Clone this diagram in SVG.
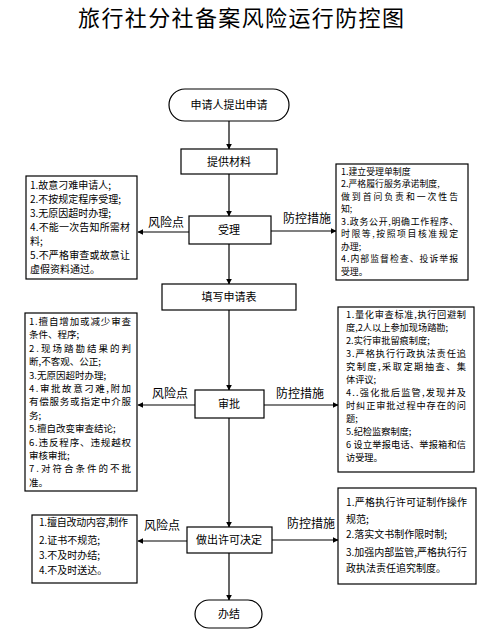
<svg xmlns="http://www.w3.org/2000/svg" width="493" height="638" viewBox="0 0 493 638">
<style>
text{font-family:"Noto Sans CJK SC","Noto Sans",sans-serif;fill:#000}
.title{font-size:22px;text-anchor:middle}
.lbl{font-size:11px;text-anchor:middle}
.side{font-size:12px}
.t{font-size:10px}
.m1{font-size:8.9px}
.m2{font-size:9.2px}
.r2{font-size:9.5px}
.box{fill:#fff;stroke:#000;stroke-width:1.2}
.ln{stroke:#000;stroke-width:1.2;fill:none;marker-end:url(#ah)}
</style>
<defs>
<marker id="ah" viewBox="0 0 10 10" refX="9" refY="5" markerWidth="6" markerHeight="6" orient="auto" markerUnits="userSpaceOnUse">
<path d="M0,0 L10,5 L0,10 z" fill="#000"/>
</marker>
</defs>
<rect width="493" height="638" fill="#fff"/>
<text class="title" x="241" y="26" textLength="326" lengthAdjust="spacing">旅行社分社备案风险运行防控图</text>

<g id="connectors">
<line class="ln" x1="229" y1="121" x2="229" y2="149"/>
<line class="ln" x1="229" y1="174" x2="229" y2="216"/>
<line class="ln" x1="229" y1="244" x2="229" y2="284"/>
<line class="ln" x1="229" y1="310" x2="229" y2="390"/>
<line class="ln" x1="229" y1="418" x2="229" y2="527"/>
<line class="ln" x1="229" y1="553" x2="229" y2="600"/>
<line class="ln" x1="189" y1="232" x2="138" y2="232"/>
<line class="ln" x1="271" y1="231" x2="336" y2="231"/>
<line class="ln" x1="195" y1="405" x2="138" y2="405"/>
<line class="ln" x1="264" y1="405" x2="338" y2="405"/>
<line class="ln" x1="187" y1="541" x2="138" y2="541"/>
<line class="ln" x1="272" y1="540" x2="338" y2="540"/>
<text class="side" x="148" y="227">风险点</text>
<text class="side" x="283" y="223">防控措施</text>
<text class="side" x="152" y="398">风险点</text>
<text class="side" x="276" y="398">防控措施</text>
<text class="side" x="144" y="530">风险点</text>
<text class="side" x="287" y="528">防控措施</text>
</g>

<g id="start">
<rect class="box" x="169" y="89" width="120" height="32" rx="16"/>
<text class="lbl" x="229" y="109">申请人提出申请</text>
</g>
<g id="materials">
<rect class="box" x="181" y="149" width="96" height="25"/>
<text class="lbl" x="229" y="166">提供材料</text>
</g>
<g id="accept">
<rect class="box" x="189" y="216" width="82" height="28"/>
<text class="lbl" x="229" y="234">受理</text>
</g>
<g id="form">
<rect class="box" x="162" y="284" width="134" height="26"/>
<text class="lbl" x="229" y="301">填写申请表</text>
</g>
<g id="approve">
<rect class="box" x="195" y="390" width="69" height="28"/>
<text class="lbl" x="229" y="408">审批</text>
</g>
<g id="decide">
<rect class="box" x="187" y="527" width="85" height="26"/>
<text class="lbl" x="229" y="544">做出许可决定</text>
</g>
<g id="end">
<rect class="box" x="195" y="600" width="67" height="28" rx="14"/>
<text class="lbl" x="229" y="618">办结</text>
</g>

<g id="risk1">
<rect class="box" x="26" y="176" width="111" height="103"/>
<text class="t"><tspan x="30" y="189">1.故意刁难申请人;</tspan><tspan x="30" y="203">2.不按规定程序受理;</tspan><tspan x="30" y="217">3.无原因超时办理;</tspan><tspan x="30" y="231" textLength="100" lengthAdjust="spacing">4.不能一次告知所需材</tspan><tspan x="30" y="245">料;</tspan><tspan x="30" y="259" textLength="100" lengthAdjust="spacing">5.不严格审查或故意让</tspan><tspan x="30" y="273">虚假资料通过。</tspan></text>
</g>
<g id="measure1">
<rect class="box" x="336" y="164" width="132" height="116"/>
<text class="m1"><tspan x="341" y="174.5">1.建立受理单制度</tspan><tspan x="341" y="187">2.严格履行服务承诺制度,</tspan><tspan x="341" y="199.5" textLength="117" lengthAdjust="spacing">做到首问负责和一次性告</tspan><tspan x="341" y="212">知;</tspan><tspan x="341" y="224.5" textLength="117" lengthAdjust="spacing">3.政务公开,明确工作程序、</tspan><tspan x="341" y="237" textLength="117" lengthAdjust="spacing">时限等,按照项目核准规定</tspan><tspan x="341" y="249.5">办理;</tspan><tspan x="341" y="262" textLength="117" lengthAdjust="spacing">4.内部监督检查、投诉举报</tspan><tspan x="341" y="274.5">受理。</tspan></text>
</g>

<g id="risk2">
<rect class="box" x="25" y="313" width="112" height="178"/>
<text class="r2"><tspan x="29" y="325" textLength="102" lengthAdjust="spacing">1.擅自增加或减少审查</tspan><tspan x="29" y="338.4">条件、程序;</tspan><tspan x="29" y="351.8" textLength="102" lengthAdjust="spacing">2.现场踏勘结果的判</tspan><tspan x="29" y="365.2">断,不客观、公正;</tspan><tspan x="29" y="378.6">3.无原因超时办理;</tspan><tspan x="29" y="392" textLength="102" lengthAdjust="spacing">4.审批故意刁难,附加</tspan><tspan x="29" y="405.4" textLength="102" lengthAdjust="spacing">有偿服务或指定中介服</tspan><tspan x="29" y="418.8">务;</tspan><tspan x="29" y="432.2">5.擅自改变审查结论;</tspan><tspan x="29" y="445.6" textLength="102" lengthAdjust="spacing">6.违反程序、违规越权</tspan><tspan x="29" y="459">审核审批;</tspan><tspan x="29" y="472.4" textLength="102" lengthAdjust="spacing">7.对符合条件的不批</tspan><tspan x="29" y="485.8">准。</tspan></text>
</g>
<g id="measure2">
<rect class="box" x="338" y="307" width="136" height="165"/>
<text class="m2"><tspan x="346" y="318" textLength="120" lengthAdjust="spacing">1.量化审查标准,执行回避制</tspan><tspan x="346" y="331">度,2人以上参加现场踏勘;</tspan><tspan x="346" y="344">2.实行审批留痕制度;</tspan><tspan x="346" y="357" textLength="120" lengthAdjust="spacing">3.严格执行行政执法责任追</tspan><tspan x="346" y="370" textLength="120" lengthAdjust="spacing">究制度,采取定期抽查、集</tspan><tspan x="346" y="383">体评议;</tspan><tspan x="346" y="396" textLength="120" lengthAdjust="spacing">4..强化批后监管,发现并及</tspan><tspan x="346" y="409" textLength="120" lengthAdjust="spacing">时纠正审批过程中存在的问</tspan><tspan x="346" y="422">题;</tspan><tspan x="346" y="435">5.纪检监察制度;</tspan><tspan x="346" y="448" textLength="120" lengthAdjust="spacing">6 设立举报电话、举报箱和信</tspan><tspan x="346" y="461">访受理。</tspan></text>
</g>

<g id="risk3">
<rect class="box" x="32" y="515" width="105" height="68"/>
<text class="t"><tspan x="39" y="526" textLength="89" lengthAdjust="spacing">1.擅自改动内容,制作</tspan><tspan x="39" y="544">2.证书不规范;</tspan><tspan x="39" y="559">3.不及时办结;</tspan><tspan x="39" y="574">4.不及时送达。</tspan></text>
</g>
<g id="measure3">
<rect class="box" x="338" y="488" width="138" height="96"/>
<text class="t"><tspan x="346" y="506" textLength="121" lengthAdjust="spacing">1.严格执行许可证制作操作</tspan><tspan x="346" y="523">规范;</tspan><tspan x="346" y="538">2.落实文书制作限时制;</tspan><tspan x="346" y="556" textLength="121" lengthAdjust="spacing">3.加强内部监管,严格执行行</tspan><tspan x="346" y="572">政执法责任追究制度。</tspan></text>
</g>
</svg>
